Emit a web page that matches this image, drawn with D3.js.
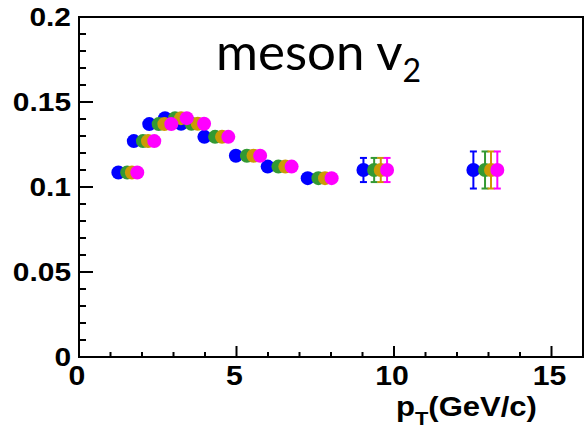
<!DOCTYPE html>
<html><head><meta charset="utf-8">
<script src="https://cdn.jsdelivr.net/npm/d3@7"></script>
<style>html,body{margin:0;padding:0;background:#fff;}svg{display:block;}</style>
</head><body>
<script>
// Data
const yValues = [0.1085, 0.127, 0.137, 0.1405, 0.1372, 0.1295, 0.1184, 0.112, 0.1052, 0.110, 0.110];
const yErrors = [0, 0, 0, 0, 0, 0, 0, 0, 0, 0.0071, 0.0109];
const blueX    = [1.25, 1.74, 2.23, 2.73, 3.24, 3.98, 4.98, 5.99, 7.26, 9.03, 12.52];
const greenX   = [1.53, 2.03, 2.53, 3.05, 3.57, 4.32, 5.33, 6.33, 7.60, 9.37, 12.89];
const orangeX  = [1.68, 2.19, 2.71, 3.24, 3.77, 4.54, 5.54, 6.55, 7.81, 9.58, 13.08];
const magentaX = [1.85, 2.39, 2.93, 3.42, 3.97, 4.74, 5.75, 6.75, 8.02, 9.78, 13.28];
const seriesNames = ["blue", "green", "orange", "magenta"];
const seriesColors = ["#0000ff", "#339933", "#cc9a06", "#ff00ff"];
const xTickLabels = [0, 5, 10, 15];
const yTickLabels = [0, 0.05, 0.1, 0.15, 0.2];

const W = 587, H = 433;
const L = 79, R = 583, T = 17, B = 357;
const FONT = "Liberation Sans, Arial, sans-serif";
const svg = d3.select("body").append("svg").attr("width", W).attr("height", H);
const x = d3.scaleLinear().domain([0, 16]).range([L, R]);
const y = d3.scaleLinear().domain([0, 0.2]).range([B, T]);

// frame
svg.append("rect").attr("x", L).attr("y", T).attr("width", R - L).attr("height", B - T)
  .attr("fill", "none").attr("stroke", "#000").attr("stroke-width", 2);

// y ticks (inward)
const yMinor = d3.range(0, 0.2001, 0.01);
svg.append("g").selectAll("line").data(yMinor).join("line")
  .attr("x1", L).attr("x2", (d, i) => L + (i % 5 === 0 ? 14 : 7))
  .attr("y1", d => y(d)).attr("y2", d => y(d))
  .attr("stroke", "#000").attr("stroke-width", 2);
svg.append("g").selectAll("text").data(yTickLabels).join("text")
  .attr("transform", d => `translate(71,${y(d)}) scale(1.15,1)`)
  .attr("dy", "0.36em")
  .attr("text-anchor", "end")
  .attr("font-family", FONT).attr("font-weight", "bold")
  .attr("font-size", 26).text(d => d === 0 ? "0" : String(d));

// x ticks (inward)
const xMinor = d3.range(0, 16.01, 1);
svg.append("g").selectAll("line").data(xMinor).join("line")
  .attr("x1", d => x(d)).attr("x2", d => x(d))
  .attr("y1", B).attr("y2", d => B - (d % 5 === 0 ? 11 : 5))
  .attr("stroke", "#000").attr("stroke-width", 2);
svg.append("g").selectAll("text").data(xTickLabels).join("text")
  .attr("transform", d => `translate(${x(d) - 2},385) scale(1.12,1)`)
  .attr("text-anchor", "middle")
  .attr("font-family", FONT).attr("font-weight", "bold")
  .attr("font-size", 27).text(d => String(d));

// x axis title
const xt = svg.append("text").attr("transform", "translate(396,416) scale(1.15,1)")
  .attr("font-family", FONT).attr("font-weight", "bold")
  .attr("font-size", 27);
xt.append("tspan").text("p");
xt.append("tspan").attr("font-size", 19).attr("dy", 9).text("T");
xt.append("tspan").attr("dy", -9).text("(GeV/c)");

// title
const tt = svg.append("text").attr("x", 216).attr("y", 70)
  .attr("font-family", "Lato, Carlito, Calibri, sans-serif").attr("font-size", 51);
tt.append("tspan").text("meson v");
tt.append("tspan").attr("font-size", 32).attr("dy", 12).text("2");

// data series
const allX = [blueX, greenX, orangeX, magentaX];
seriesNames.forEach((name, si) => {
  const pts = allX[si].map((xv, i) => ({x: xv, y: yValues[i], e: yErrors[i]}));
  const g = svg.append("g").attr("class", "series-" + name);
  const eb = pts.filter(p => p.e > 0);
  g.selectAll("line.eb").data(eb).join("line").attr("class", "eb")
    .attr("x1", p => x(p.x)).attr("x2", p => x(p.x))
    .attr("y1", p => y(p.y - p.e)).attr("y2", p => y(p.y + p.e))
    .attr("stroke", seriesColors[si]).attr("stroke-width", 2);
  [1, -1].forEach(s => {
    g.selectAll("line.cap" + s).data(eb).join("line").attr("class", "cap" + s)
      .attr("x1", p => x(p.x) - 3.5).attr("x2", p => x(p.x) + 3.5)
      .attr("y1", p => y(p.y + s * p.e)).attr("y2", p => y(p.y + s * p.e))
      .attr("stroke", seriesColors[si]).attr("stroke-width", 2);
  });
  g.selectAll("circle").data(pts).join("circle")
    .attr("cx", p => x(p.x)).attr("cy", p => y(p.y)).attr("r", 7)
    .attr("fill", seriesColors[si]);
});
</script>
</body></html>
